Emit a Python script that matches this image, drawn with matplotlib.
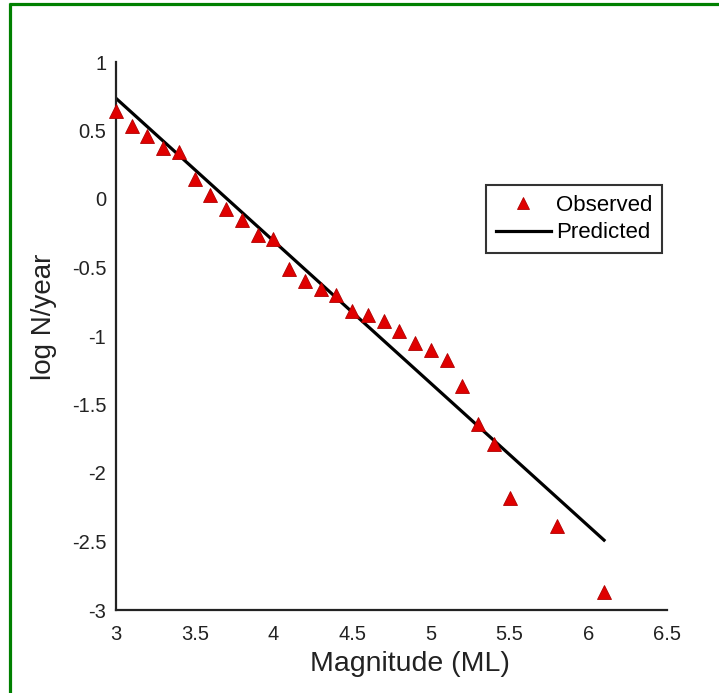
import matplotlib.pyplot as plt
from matplotlib.lines import Line2D

plt.rcParams['font.family'] = ['Liberation Sans', 'DejaVu Sans']

# observed points
mag_obs = [3.0, 3.1, 3.2, 3.3, 3.4, 3.5, 3.6, 3.7, 3.8, 3.9, 4.0, 4.1, 4.2, 4.3,
           4.4, 4.5, 4.6, 4.7, 4.8, 4.9, 5.0, 5.1, 5.2, 5.3, 5.4, 5.5, 5.8, 6.1]
logn_obs = [0.64, 0.53, 0.46, 0.37, 0.345, 0.145, 0.03, -0.075, -0.155, -0.26,
            -0.295, -0.51, -0.60, -0.66, -0.70, -0.82, -0.85, -0.89, -0.965,
            -1.05, -1.10, -1.175, -1.365, -1.64, -1.79, -2.18, -2.39, -2.87]

# predicted line end points
mag_pred = [3.0, 6.1]
logn_pred = [0.735, -2.49]

xticks = [3, 3.5, 4, 4.5, 5, 5.5, 6, 6.5]
xtick_labels = ['3', '3.5', '4', '4.5', '5', '5.5', '6', '6.5']
yticks = [1, 0.5, 0, -0.5, -1, -1.5, -2, -2.5, -3]
ytick_labels = ['1', '0.5', '0', '-0.5', '-1', '-1.5', '-2', '-2.5', '-3']

fig = plt.figure(figsize=(7.19, 6.93), dpi=100)
fig.patch.set_facecolor('white')
ax = fig.add_axes([116/719, 1 - 610/693, 551/719, 548/693])

ax.plot(mag_obs, logn_obs, linestyle='none', marker='^', markersize=10.5,
        markerfacecolor='#e00000', markeredgecolor='#b00000', markeredgewidth=0.6,
        label='Observed', clip_on=False, zorder=3)
ax.plot(mag_pred, logn_pred, color='black', linewidth=2.3, label='Predicted',
        zorder=2)

ax.set_xlim(3, 6.5)
ax.set_ylim(-3, 1)
ax.set_xticks(xticks)
ax.set_xticklabels(xtick_labels)
ax.set_yticks(yticks)
ax.set_yticklabels(ytick_labels)
ax.tick_params(axis='both', length=0, labelsize=14.5, colors='#222222')
ax.tick_params(axis='x', pad=10.5)
ax.tick_params(axis='y', pad=7)

for s in ['top', 'right']:
    ax.spines[s].set_visible(False)
for s in ['left', 'bottom']:
    ax.spines[s].set_linewidth(1.6)
    ax.spines[s].set_color('#222222')

ax.set_xlabel('Magnitude (ML)', fontsize=20.5, color='#222222')
ax.set_ylabel('log N/year', fontsize=20, color='#222222')
ax.xaxis.set_label_coords(0.534, -0.074)
ax.yaxis.set_label_coords(-0.107, 0.535)

leg = ax.legend(loc='upper right', bbox_to_anchor=(0.991, 0.776),
                borderaxespad=0, fancybox=False, fontsize=16,
                handlelength=2.5, handletextpad=0.2, markerscale=0.85,
                borderpad=0.45, labelspacing=0.3)
leg.get_frame().set_edgecolor('black')
leg.get_frame().set_linewidth(1.5)

# green frame on top and left edges
fig.add_artist(Line2D([9/719, 1], [1 - 4/693, 1 - 4/693], color='#008000',
                      linewidth=2.3, solid_capstyle='butt',
                      transform=fig.transFigure))
fig.add_artist(Line2D([10/719, 10/719], [1 - 3/693, 0], color='#008000',
                      linewidth=2.3, solid_capstyle='butt',
                      transform=fig.transFigure))

fig.savefig('out.png', dpi=100, facecolor='white')
